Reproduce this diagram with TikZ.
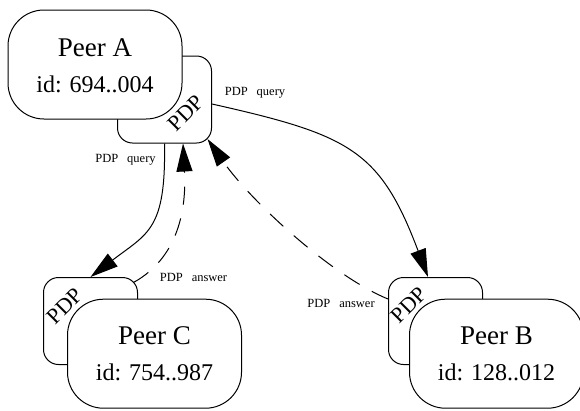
\documentclass[tikz,border=0pt]{standalone}
\usepackage{fontspec}
\setmainfont{Liberation Serif}
\usetikzlibrary{arrows.meta}
\begin{document}
\begin{tikzpicture}[x=1pt,y=-1pt,
  peerbox/.style={draw=black,line width=1pt,fill=white,rounded corners=36pt,minimum width=174pt,minimum height=109pt,inner sep=0pt},
  pdpbox/.style={draw=black,line width=1pt,fill=white,rounded corners=15pt,minimum width=94pt,minimum height=87pt,inner sep=0pt},
  pdptext/.style={font=\fontsize{22}{22}\selectfont,rotate=45,inner sep=0pt},
  peertitle/.style={font=\fontsize{27}{27}\selectfont,anchor=base,inner sep=0pt},
  peerid/.style={font=\fontsize{24}{24}\selectfont,anchor=base,inner sep=0pt},
  edgelabel/.style={font=\fontsize{12.5}{12.5}\selectfont,anchor=base,inner sep=0pt},
  msg/.style={line width=1pt,-{Triangle[length=28pt,width=16pt]}},
  answer/.style={msg,dash pattern=on 18pt off 14pt}
]
\useasboundingbox (0,0) rectangle (580,410);

% PDP boxes
\node[pdpbox] (pdpa) at (164.5,99.5) {};
\node[pdpbox] (pdpc) at (90.5,321) {};
\node[pdpbox] (pdpb) at (435.5,321) {};

% Peer boxes
\node[peerbox] (peera) at (95,64.5) {};
\node[peerbox] (peerc) at (154.5,353.7) {};
\node[peerbox] (peerb) at (496.5,353.7) {};

% PDP texts
\node[pdptext] (pdpatext) at ([shift={(21.5,13.5)}]pdpa.center) {PDP};
\node[pdptext] (pdpctext) at ([shift={(-25.5,-15)}]pdpc.center) {PDP};
\node[pdptext] (pdpbtext) at ([shift={(-26.5,-16)}]pdpb.center) {PDP};

% Peer texts
\node[peertitle] (peeratitle) at ([shift={(0,-8.5)}]peera.center) {Peer A};
\node[peerid] (peeraid) at ([shift={(0,28)}]peera.center) {id: 694..004};
\node[peertitle] (peerctitle) at ([shift={(0,-9.5)}]peerc.center) {Peer C};
\node[peerid] (peercid) at ([shift={(0,27)}]peerc.center) {id: 754..987};
\node[peertitle] (peerbtitle) at ([shift={(0,-9.5)}]peerb.center) {Peer B};
\node[peerid] (peerbid) at ([shift={(0,27)}]peerb.center) {id: 128..012};

% Connectors
\draw[msg] (pdpa.south) .. controls (166,230) and (148,233) .. (pdpc.north);
\draw[msg] ([shift={(0,4.5)}]pdpa.east) .. controls (350,135) and (380,150) .. ([xshift=-7.5]pdpb.north);
\draw[answer] ([shift={(-4.5,5.5)}]pdpc.north east) .. controls (183,255) and (186,200) .. ([xshift=18.5]pdpa.south);
\draw[answer] ([shift={(0,-22)}]pdpb.west) .. controls (330,275) and (250,200) .. ([shift={(-4.5,-4.5)}]pdpa.south east);

% Edge labels
\node[edgelabel] (lq1) at (125.5,162.5) {PDP\hspace{9pt}query};
\node[edgelabel] (lq2) at (255,95) {PDP\hspace{9pt}query};
\node[edgelabel] (la1) at (193.5,281) {PDP\hspace{9pt}answer};
\node[edgelabel] (la2) at (341,307.5) {PDP\hspace{9pt}answer};
\end{tikzpicture}
\end{document}
